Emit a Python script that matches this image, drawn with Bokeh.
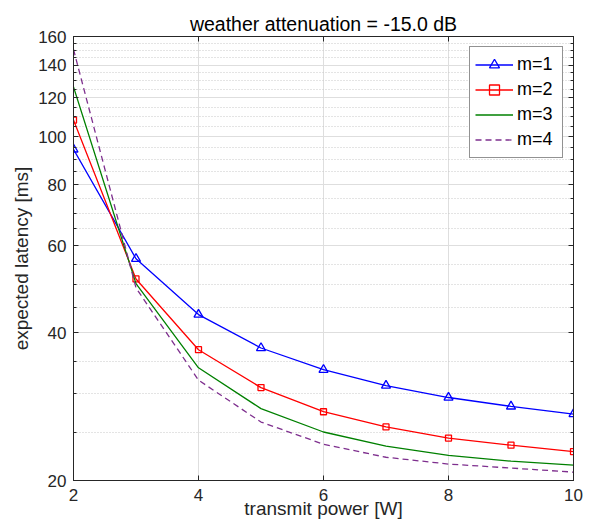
from bokeh.plotting import figure
from bokeh.models import (Range1d, FixedTicker, LinearAxis, LogAxis, Legend, LegendItem,
                          BasicTickFormatter)
from bokeh.embed import file_html
from bokeh.resources import INLINE

power = [2, 3, 4, 5, 6, 7, 8, 9, 10]
m1 = [94.3, 56.5, 43.5, 37.2, 33.6, 31.2, 29.5, 28.3, 27.3]
m2 = [108.2, 51.4, 36.9, 30.9, 27.6, 25.7, 24.4, 23.6, 22.9]
m3 = [126.4, 50.3, 33.9, 28.0, 25.1, 23.5, 22.5, 21.9, 21.5]
m4 = [150.6, 49.3, 32.0, 26.3, 23.7, 22.3, 21.6, 21.2, 20.8]

x_ticks = [2, 4, 6, 8, 10]
y_ticks = [20, 40, 60, 80, 100, 120, 140, 160]
y_minor = [25, 30, 35, 45, 50, 55, 65, 70, 75, 85, 90, 95, 105, 110, 115,
           125, 130, 135, 145, 150, 155]

FONT = "Liberation Sans"
AX = "#262626"

p = figure(frame_width=500, frame_height=444, y_axis_type="log",
           x_range=Range1d(2, 10), y_range=Range1d(20, 160),
           output_backend="svg", toolbar_location=None,
           min_border_left=73, min_border_right=12, min_border_top=36, min_border_bottom=41,
           title="weather attenuation = -15.0 dB")
p.background_fill_color = "white"
p.outline_line_color = AX
p.outline_line_width = 1

p.title.align = "center"
p.title.text_font = FONT
p.title.text_font_size = "19.5px"
p.title.text_font_style = "normal"
p.title.text_color = "black"
p.title.standoff = 4

xt = FixedTicker(ticks=x_ticks, minor_ticks=[])
yt = FixedTicker(ticks=y_ticks, minor_ticks=y_minor)

xa = p.xaxis[0]
ya = p.yaxis[0]
xa.ticker = xt
ya.ticker = yt
ya.formatter = BasicTickFormatter()
xa.axis_label = "transmit power [W]"
ya.axis_label = "expected latency [ms]"
for a in (xa, ya):
    a.axis_label_text_font = FONT
    a.axis_label_text_font_size = "19px"
    a.axis_label_text_font_style = "normal"
    a.axis_label_text_color = AX
    a.major_label_text_font = FONT
    a.major_label_text_font_size = "17px"
    a.major_label_text_color = AX
    a.axis_line_color = AX
    a.major_tick_line_color = AX
    a.minor_tick_line_color = AX
    a.major_tick_in = 5
    a.major_tick_out = 0
    a.minor_tick_in = 3
    a.minor_tick_out = 0
xa.major_label_standoff = 8
xa.axis_label_standoff = -6
ya.major_label_standoff = 7
ya.axis_label_standoff = 3

top = LinearAxis(ticker=xt, major_label_text_font_size="1px", major_label_text_color=None,
                 major_label_standoff=0,
                 major_tick_in=5, major_tick_out=0, minor_tick_in=0, minor_tick_out=0,
                 axis_line_color=AX, major_tick_line_color=AX)
right = LogAxis(ticker=yt, major_label_text_font_size="1px", major_label_text_color=None,
                major_label_standoff=0,
                major_tick_in=5, major_tick_out=0, minor_tick_in=3, minor_tick_out=0,
                axis_line_color=AX, major_tick_line_color=AX, minor_tick_line_color=AX)
p.add_layout(top, "above")
p.add_layout(right, "right")

p.xgrid.ticker = xt
p.ygrid.ticker = yt
for g in (p.xgrid[0], p.ygrid[0]):
    g.grid_line_color = "#DEDEDE"
    g.grid_line_width = 1
p.ygrid[0].minor_grid_line_color = "#C8C8C8"
p.ygrid[0].minor_grid_line_dash = "1 2"
p.ygrid[0].minor_grid_line_width = 1

l1 = p.line(power, m1, line_color="#0000FF", line_width=1.3)
s1 = p.scatter(power, m1, marker="triangle", size=9, line_color="#0000FF",
               fill_color=None, line_width=1.3)
l2 = p.line(power, m2, line_color="#FF0000", line_width=1.3)
s2 = p.scatter(power, m2, marker="square", size=6, line_color="#FF0000",
               fill_color=None, line_width=1.3)
l3 = p.line(power, m3, line_color="#008000", line_width=1.3)
l4 = p.line(power, m4, line_color="#7E2F8E", line_width=1.3, line_dash="6 4")

legend = Legend(items=[LegendItem(label="m=1", renderers=[l1, s1]),
                       LegendItem(label="m=2", renderers=[l2, s2]),
                       LegendItem(label="m=3", renderers=[l3]),
                       LegendItem(label="m=4", renderers=[l4])],
                location="top_right")
legend.margin = 10
legend.padding = 5
legend.spacing = 0
legend.glyph_width = 38
legend.glyph_height = 25
legend.label_height = 25
legend.label_width = 40
legend.label_standoff = 4
legend.label_text_font = FONT
legend.label_text_font_size = "18px"
legend.label_text_color = "black"
legend.border_line_color = AX
legend.border_line_width = 1
legend.background_fill_color = "white"
legend.background_fill_alpha = 1
p.add_layout(legend, "center")

open("out.html", "w").write(file_html(p, INLINE))
